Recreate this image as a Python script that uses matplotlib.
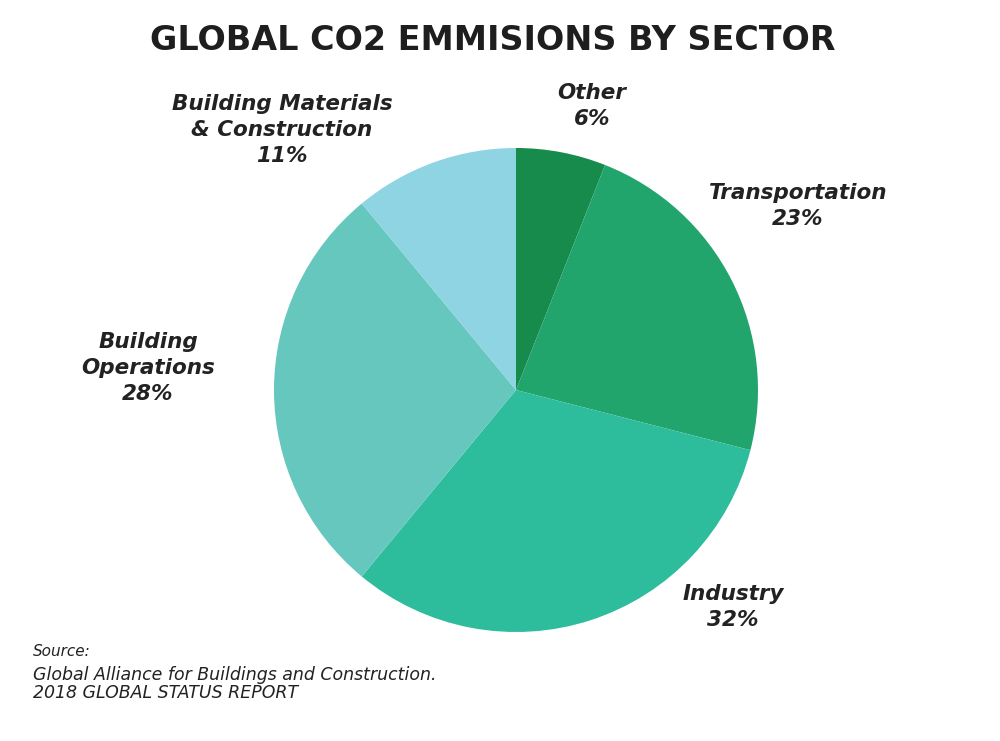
import matplotlib.pyplot as plt

# slices, clockwise from 12 o'clock
sectors = ["Other", "Transportation", "Industry", "Building\nOperations",
           "Building Materials\n& Construction"]
shares = [6, 23, 32, 28, 11]
colors = ["#178b4b", "#21a56d", "#2dbd9d", "#66c7bf", "#8fd4e2"]

# label positions in pixels (x, y from top)
label_px = [(592, 106), (798, 206), (733, 607), (148, 368), (282, 130)]

W, H = 1000, 741
fig = plt.figure(figsize=(W / 100, H / 100), dpi=100)

# pie centred near (516, 390) px with radius ~242 px
cx, cy, r = 516, 390, 242
ax = fig.add_axes([(cx - r) / W, (H - cy - r) / H, 2 * r / W, 2 * r / H])
ax.pie(shares, colors=colors, startangle=90, counterclock=False, radius=1,
       wedgeprops=dict(linewidth=0))
ax.set_xlim(-1, 1)
ax.set_ylim(-1, 1)
ax.set_aspect("equal")
ax.axis("off")

for name, val, (x, y) in zip(sectors, shares, label_px):
    fig.text(x / W, 1 - y / H, f"{name}\n{val}%", ha="center", va="center",
             fontsize=15.5, style="italic", fontweight="semibold",
             color="#222222", linespacing=1.4)

fig.text(493 / W, 1 - 40 / H, "GLOBAL CO2 EMMISIONS BY SECTOR", ha="center",
         va="center", fontsize=24, fontweight="bold", color="#1e1e1e")

fig.text(33 / W, 1 - 652 / H, "Source:", fontsize=11, style="italic",
         va="center", color="#222222")
fig.text(33 / W, 1 - 684 / H,
         "Global Alliance for Buildings and Construction.\n2018 GLOBAL STATUS REPORT",
         fontsize=12.5, style="italic", va="center", color="#222222",
         linespacing=1.0)

fig.savefig("out.png", dpi=100, facecolor="white")
